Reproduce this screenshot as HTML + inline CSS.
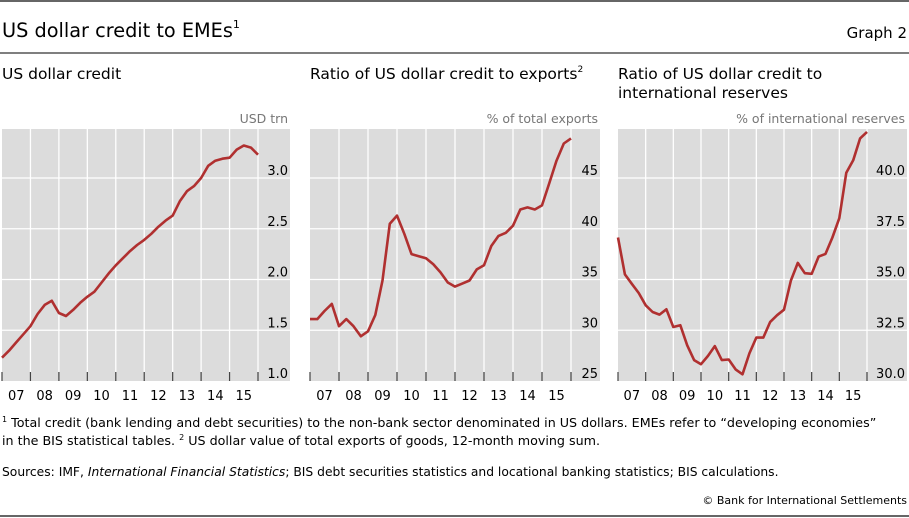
<!DOCTYPE html>
<html><head><meta charset="utf-8">
<style>
body{margin:0;background:#fff;}
svg{display:block;font-family:"DejaVu Sans","Liberation Sans",sans-serif;}
.t{fill:#000;}
</style></head>
<body>
<svg id="c" width="909" height="518" viewBox="0 0 909 518">
<line x1="0" y1="1" x2="909" y2="1" stroke="#333" stroke-width="1.5"/>
<text x="2" y="37" font-size="19.3" class="t">US dollar credit to EMEs<tspan font-size="11" dy="-9">1</tspan></text>
<text x="907" y="38" font-size="15" text-anchor="end" class="t">Graph 2</text>
<line x1="0" y1="53" x2="909" y2="53" stroke="#333" stroke-width="1.2"/>
<text x="2" y="79" font-size="15.5" class="t">US dollar credit</text>
<text x="310" y="79" font-size="15.5" class="t">Ratio of US dollar credit to exports<tspan font-size="9" dy="-7">2</tspan></text>
<text x="618" y="79" font-size="15.5" class="t">Ratio of US dollar credit to</text>
<text x="618" y="98" font-size="15.5" class="t">international reserves</text>
<g id="panels"></g>
<text x="2" y="427" font-size="12.7" class="t"><tspan font-size="8" dy="-5">1</tspan><tspan dy="5">  Total credit (bank lending and debt securities) to the non-bank sector denominated in US dollars. EMEs refer to “developing economies”</tspan></text>
<text x="2" y="445" font-size="12.7" class="t">in the BIS statistical tables.    <tspan font-size="8" dy="-5">2</tspan><tspan dy="5">  US dollar value of total exports of goods, 12-month moving sum.</tspan></text>
<text x="2" y="476" font-size="12.3" class="t">Sources: IMF, <tspan font-style="italic">International Financial Statistics</tspan>; BIS debt securities statistics and locational banking statistics; BIS calculations.</text>
<text x="907" y="504" font-size="11" text-anchor="end" class="t">© Bank for International Settlements</text>
<line x1="0" y1="516" x2="909" y2="516" stroke="#333" stroke-width="1.5"/>
</svg>
<script>
const yearLabels = ["07","08","09","10","11","12","13","14","15"];
const credit = [1.23,1.30,1.38,1.46,1.54,1.66,1.75,1.79,1.67,1.64,1.70,1.77,1.83,1.88,1.97,2.06,2.14,2.21,2.28,2.34,2.39,2.45,2.52,2.58,2.63,2.77,2.87,2.92,3.00,3.12,3.17,3.19,3.20,3.28,3.32,3.30,3.23];
const exportsRatio = [31.1,31.1,31.9,32.6,30.4,31.1,30.4,29.4,29.9,31.5,34.9,40.5,41.3,39.5,37.5,37.3,37.1,36.5,35.7,34.7,34.3,34.6,34.9,36.0,36.4,38.3,39.3,39.6,40.3,41.9,42.1,41.9,42.3,44.5,46.7,48.4,48.9];
const reservesRatio = [37.07,35.25,34.79,34.33,33.73,33.40,33.27,33.53,32.66,32.75,31.76,31.03,30.83,31.23,31.72,31.03,31.06,30.57,30.33,31.36,32.14,32.14,32.91,33.24,33.51,34.95,35.82,35.31,35.28,36.13,36.26,37.07,38.02,40.26,40.87,41.95,42.27];
const ticks1 = [1.0,1.5,2.0,2.5,3.0];
const ticks2 = [25,30,35,40,45];
const ticks3 = [30.0,32.5,35.0,37.5,40.0];
const tickLabels1 = ["1.0","1.5","2.0","2.5","3.0"];
const tickLabels2 = ["25","30","35","40","45"];
const tickLabels3 = ["30.0","32.5","35.0","37.5","40.0"];

const NS="http://www.w3.org/2000/svg";
const root=document.getElementById('panels');
function mk(tag,attrs,parent){const e=document.createElementNS(NS,tag);for(const k in attrs)e.setAttribute(k,attrs[k]);(parent||root).appendChild(e);return e;}
function panel(p){
  const g=mk('g',{});
  
  
  const top=129,bot=381;
  const bg=mk('rect',{x:p.l,y:top,width:p.r-p.l,height:bot-top,fill:'#dcdcdc'},g);
  
  
  const ys=v=>bot-(v-p.ticks[0])/(p.ticks[1]-p.ticks[0])*p.step;
  const xs=t=>p.x0+(t-2007)/9*(p.x1-p.x0);
  p.ticks.forEach((v,i)=>{
    const y=ys(v);
    if(i>0){const gl=mk('line',{x1:p.l,x2:p.r,y1:y,y2:y,stroke:'#fff','stroke-width':1.3},g);
      
      }
    const tl=mk('text',{x:p.r-2,y:y-3,'font-size':13,'text-anchor':'end',fill:'#000'},g);
    tl.textContent=p.labels[i];
    
    
  });
  for(let k=0;k<=9;k++){
    const x=xs(2007+k);
    if(k>0){const vl=mk('line',{x1:x,x2:x,y1:top,y2:bot-9,stroke:'#fff','stroke-width':1.3},g);
      
      }
    const tk=mk('line',{x1:x,x2:x,y1:bot-9,y2:bot,stroke:'#444','stroke-width':1.2},g);
    
    
  }
  yearLabels.forEach((lab,k)=>{
    const t=mk('text',{x:xs(2007.5+k),y:400,'font-size':13,'text-anchor':'middle',fill:'#000'},g);
    t.textContent=lab;
    
    
  });
  const u=mk('text',{x:p.r-2,y:123,'font-size':12.5,'text-anchor':'end',fill:'#777'},g);
  u.textContent=p.unit;
  
  
  const d=p.data.map((v,i)=>(i?'L':'M')+xs(2007+i*0.25).toFixed(1)+' '+ys(v).toFixed(1)).join(' ');
  const line=mk('path',{d:d,fill:'none',stroke:'#b03030','stroke-width':2.6,'stroke-linejoin':'round'},g);
  
  
}
panel({name:'panel-us-dollar-credit',l:2,r:290,x0:2,x1:258,step:50.75,ticks:ticks1,labels:tickLabels1,data:credit,unit:'USD trn'});
panel({name:'panel-credit-to-exports',l:310,r:600,x0:310,x1:571,step:50.75,ticks:ticks2,labels:tickLabels2,data:exportsRatio,unit:'% of total exports'});
panel({name:'panel-credit-to-reserves',l:618,r:907,x0:618,x1:867,step:50.75,ticks:ticks3,labels:tickLabels3,data:reservesRatio,unit:'% of international reserves'});
</script>
</body></html>
